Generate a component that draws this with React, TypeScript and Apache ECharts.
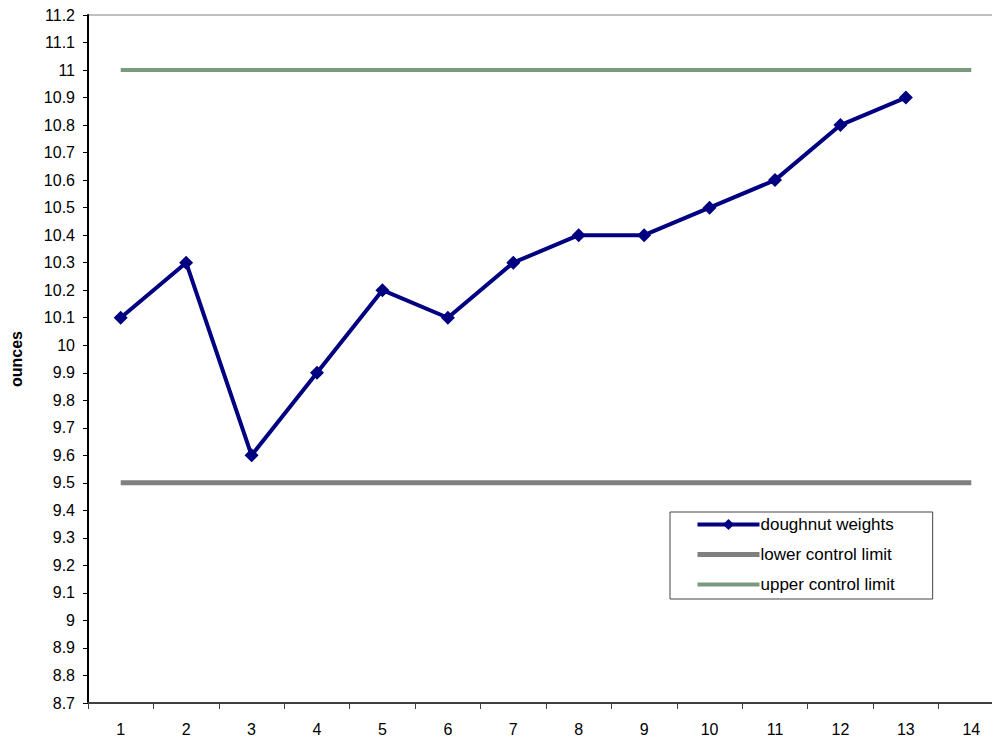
import React, { useEffect, useRef } from "react";
import * as echarts from "echarts";

const categories = ["1", "2", "3", "4", "5", "6", "7", "8", "9", "10", "11", "12", "13", "14"];
const weights: (number | null)[] = [10.1, 10.3, 9.6, 9.9, 10.2, 10.1, 10.3, 10.4, 10.4, 10.5, 10.6, 10.8, 10.9, null];
const lowerLimit = [9.5, 9.5, 9.5, 9.5, 9.5, 9.5, 9.5, 9.5, 9.5, 9.5, 9.5, 9.5, 9.5, 9.5];
const upperLimit = [11, 11, 11, 11, 11, 11, 11, 11, 11, 11, 11, 11, 11, 11];
const yMin = 8.7;
const yMax = 11.2;
const yStep = 0.1;

const FONT = "'Liberation Sans', Arial, sans-serif";
const NAVY = "#000080";
const GRAY = "#808080";
const GREEN = "#7a9a7e";

export default function App() {
  const ref = useRef<HTMLDivElement>(null);
  useEffect(() => {
    if (!ref.current) return;
    const chart = echarts.init(ref.current, undefined, { renderer: "svg" });
    chart.setOption({
      animation: false,
      backgroundColor: "#ffffff",
      textStyle: { fontFamily: FONT },
      grid: {
        left: 86,
        top: 15,
        width: 918,
        height: 688,
        show: true,
        borderColor: GRAY,
        borderWidth: 1,
        backgroundColor: "transparent",
      },
      legend: {
        orient: "vertical",
        left: 670,
        top: 512,
        padding: [4, 38, 6, 25],
        itemWidth: 62,
        itemHeight: 14,
        itemGap: 13,
        borderColor: "#444444",
        borderWidth: 1,
        textStyle: { fontFamily: FONT, fontSize: 17, color: "#000", padding: [0, 0, 0, -4] },
        data: [
          { name: "doughnut weights", lineStyle: { width: 4, color: NAVY } },
          { name: "lower control limit", lineStyle: { width: 5, color: GRAY }, itemStyle: { opacity: 0 } },
          { name: "upper control limit", lineStyle: { width: 4, color: GREEN }, itemStyle: { opacity: 0 } },
        ],
      },
      xAxis: {
        type: "category",
        data: categories,
        boundaryGap: true,
        axisLine: { show: true, lineStyle: { color: "#404040", width: 2 } },
        axisTick: { show: true, length: 6, lineStyle: { color: "#404040", width: 1 } },
        axisLabel: { fontFamily: FONT, fontSize: 16, color: "#000", margin: 18 },
        splitLine: { show: false },
      },
      yAxis: {
        type: "value",
        min: yMin,
        max: yMax,
        interval: yStep,
        name: "ounces",
        nameLocation: "middle",
        nameGap: 64,
        nameRotate: 90,
        nameTextStyle: { fontFamily: FONT, fontSize: 16, fontWeight: "bold", color: "#000" },
        axisLine: { show: true, lineStyle: { color: "#000", width: 2 } },
        axisTick: { show: true, length: 5, lineStyle: { color: "#000", width: 1 } },
        axisLabel: {
          fontFamily: FONT,
          fontSize: 16,
          color: "#000",
          margin: 13,
          formatter: (v: number) => String(Math.round(v * 10) / 10),
        },
        splitLine: { show: false },
      },
      series: [
        {
          name: "doughnut weights",
          type: "line",
          data: weights,
          z: 5,
          symbol: "diamond",
          symbolSize: 14,
          itemStyle: { color: NAVY },
          lineStyle: { color: NAVY, width: 4 },
        },
        {
          name: "lower control limit",
          type: "line",
          data: lowerLimit,
          symbol: "none",
          itemStyle: { color: GRAY },
          lineStyle: { color: GRAY, width: 5 },
        },
        {
          name: "upper control limit",
          type: "line",
          data: upperLimit,
          symbol: "none",
          itemStyle: { color: GREEN },
          lineStyle: { color: GREEN, width: 4 },
        },
      ],
    });
    return () => chart.dispose();
  }, []);
  return (
    <div style={{ position: "fixed", left: 0, top: 0, width: 992, height: 740, overflow: "hidden", background: "#fff" }}>
      <div ref={ref} style={{ width: 1030, height: 740 }} />
    </div>
  );
}
